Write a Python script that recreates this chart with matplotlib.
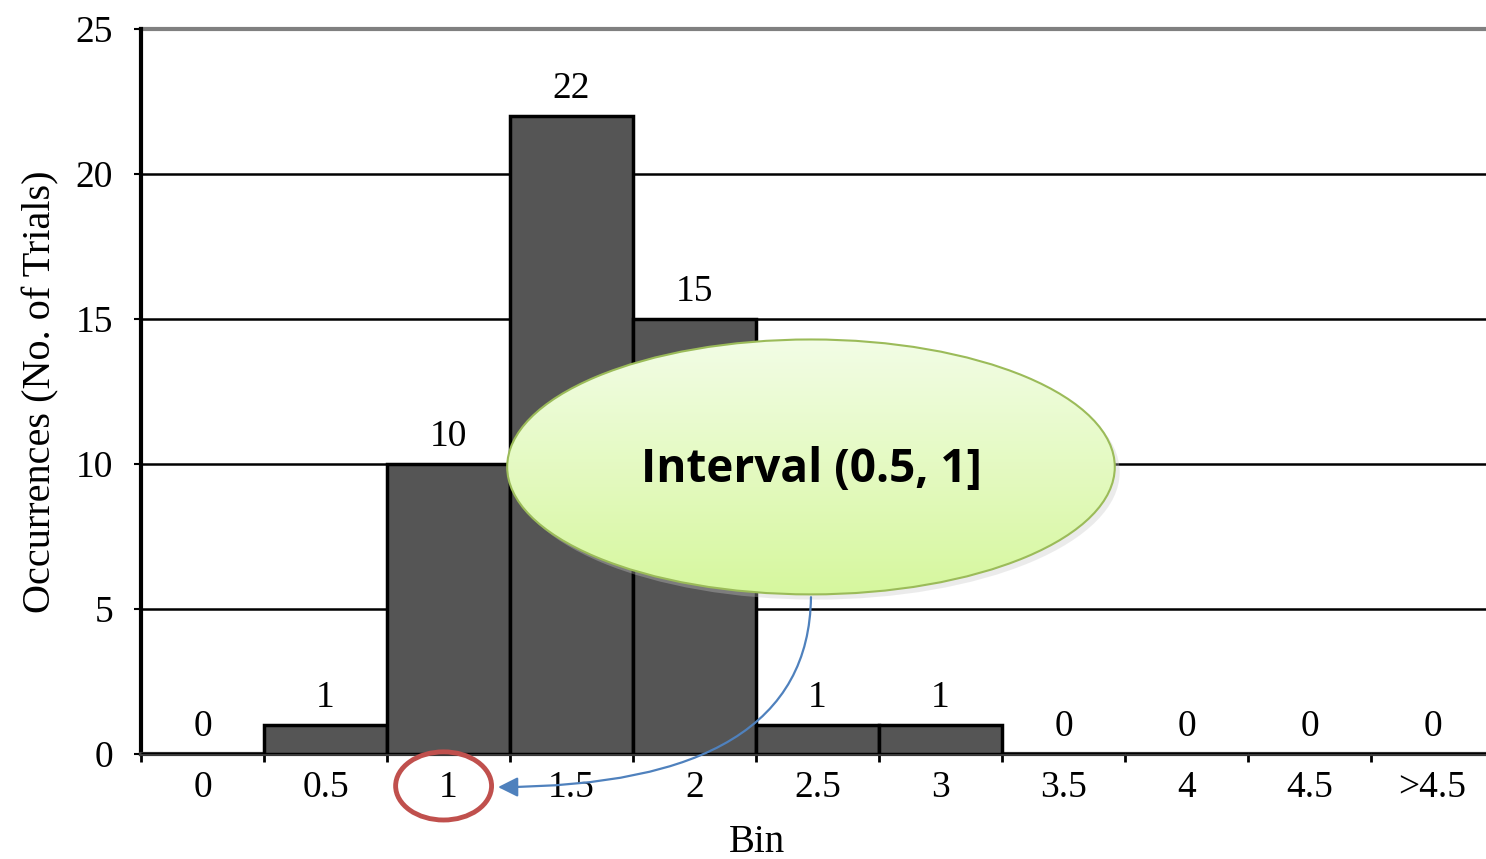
import matplotlib.pyplot as plt
import numpy as np
from matplotlib.patches import Ellipse, FancyArrowPatch

# data
bins = ["0", "0.5", "1", "1.5", "2", "2.5", "3", "3.5", "4", "4.5", ">4.5"]
counts = [0, 1, 10, 22, 15, 1, 1, 0, 0, 0, 0]
callout = "Interval (0.5, 1]"
highlight_bin = "1"

plt.rcParams["font.family"] = ["Liberation Serif", "DejaVu Serif"]

fig = plt.figure(figsize=(14.86, 8.59), dpi=100)
ax = fig.add_axes([0.0949, 0.1222, 0.9051, 0.8440])

x = np.arange(len(bins))
bars = ax.bar(x, counts, width=1.0, color="#555555", edgecolor="black", linewidth=2.5, zorder=3)
ax.bar_label(bars, labels=[str(c) for c in counts], padding=7, fontsize=27, zorder=4)

ax.set_xlim(-0.5, 10.435)
ax.set_ylim(0, 25)
ax.set_yticks([0, 5, 10, 15, 20, 25])
for yv in [5, 10, 15, 20]:
    ax.axhline(yv, color="black", lw=1.8, zorder=1)
ax.axhline(25, color="#808080", lw=3, zorder=1, clip_on=False)

ax.set_xticks(x)
ax.set_xticklabels(bins)
ax.set_xticks(np.arange(-0.5, len(bins), 1.0), minor=True)
ax.tick_params(axis="x", which="major", length=0, pad=12, labelsize=27)
ax.tick_params(axis="x", which="minor", length=6, width=2, direction="out")
ax.tick_params(axis="y", length=5, width=1.5, pad=15, labelsize=27)

for s in ["top", "right"]:
    ax.spines[s].set_visible(False)
ax.spines["left"].set_linewidth(3)
ax.spines["bottom"].set_linewidth(3)
ax.spines["bottom"].set_color("#3a3a3a")

ax.set_ylabel("Occurrences (No. of Trials)", fontsize=29, labelpad=12)
ax.set_xlabel("Bin", fontsize=28)
ax.xaxis.set_label_coords(0.458, -0.096)

# callout ellipse with gradient fill
cx, cy, ew, eh = 4.947, 9.9, 4.94, 8.79
shadow = Ellipse((cx + 0.04, cy - 0.18), ew, eh, facecolor="#c8c8c8", edgecolor="none",
                 alpha=0.35, zorder=5)
ax.add_patch(shadow)
ell = Ellipse((cx, cy), ew, eh, facecolor="none", edgecolor="#9bbb59", lw=1.5, zorder=7)
ax.add_patch(ell)
grad = np.linspace(0, 1, 256).reshape(-1, 1)
top = np.array([0.95, 0.99, 0.90])
bot = np.array([0.84, 0.97, 0.62])
img = top[None, None, :] * (1 - grad[..., None]) + bot[None, None, :] * grad[..., None]
im = ax.imshow(img, extent=[cx - ew / 2, cx + ew / 2, cy - eh / 2, cy + eh / 2],
               origin="upper", aspect="auto", zorder=6)
clip = Ellipse((cx, cy), ew, eh, transform=ax.transData)
im.set_clip_path(clip)
ax.set_xlim(-0.5, 10.435)
ax.set_ylim(0, 25)
ax.text(cx, cy - 0.1, callout, ha="center", va="center", fontsize=33, fontweight="bold",
        family=["Open Sans", "DejaVu Sans"], zorder=8)

# red circle around highlighted tick label
hx = bins.index(highlight_bin) - 0.04
circ = Ellipse((hx, -1.1), 0.78, 2.35, facecolor="none", edgecolor="#c0504d", lw=3.5,
               clip_on=False, zorder=9)
ax.add_patch(circ)

# blue curved arrow
arr = FancyArrowPatch((cx, cy - eh / 2), (2.38, -1.14),
                      connectionstyle="angle3,angleA=-90,angleB=0",
                      arrowstyle="-|>,head_length=12,head_width=6", color="#4f81bd",
                      lw=1.6, clip_on=False, zorder=9)
ax.add_patch(arr)

fig.savefig("out.png", dpi=100)
